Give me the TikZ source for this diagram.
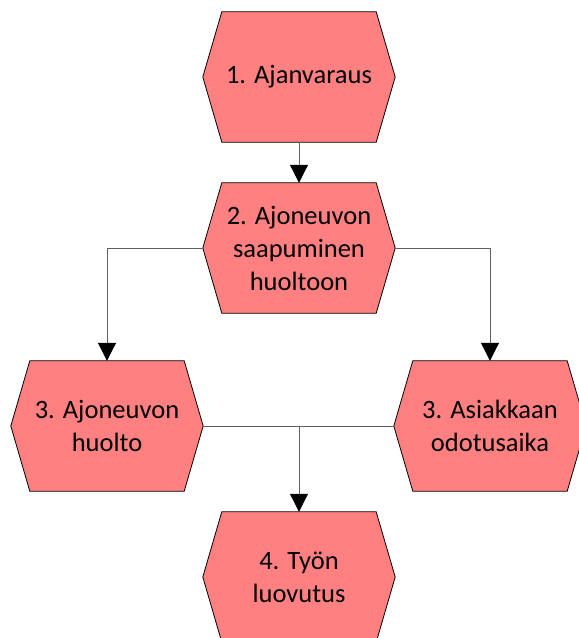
\documentclass[tikz,border=0pt]{standalone}
\usepackage{fontspec}
\setmainfont{Carlito}
\usetikzlibrary{arrows.meta,calc}
\pgfdeclarelayer{background}
\pgfsetlayers{background,main}
\definecolor{hexfill}{HTML}{FF8080}
\definecolor{linegrey}{HTML}{606060}
\begin{document}
\begin{tikzpicture}[x=1pt,y=-1pt,
  hexbox/.style={minimum width=192pt,minimum height=130pt,inner sep=0pt,align=center,
    font=\fontsize{26.5}{33}\selectfont,text=black},
  conn/.style={draw=linegrey,line width=1pt},
  arr/.style={conn,-{Triangle[width=18pt,length=18pt,fill=black,color=black]}}]
\useasboundingbox (0,0) rectangle (579,638);
\clip (0,0) rectangle (579,638);
\node[hexbox] (n1) at (299,77) {1. Ajanvaraus};
\node[hexbox] (n2) at (299,248) {2. Ajoneuvon\\saapuminen\\huoltoon};
\node[hexbox] (n3l) at (107,426) {3. Ajoneuvon\\huolto};
\node[hexbox] (n3r) at (490,426) {3. Asiakkaan\\odotusaika};
\node[hexbox] (n4) at (299,577) {4. Työn\\luovutus};
\begin{pgfonlayer}{background}
\foreach \n in {n1,n2,n3l,n3r,n4}{
  \filldraw[fill=hexfill,draw=black,line width=0.8pt]
    (\n.west) -- ([xshift=19pt]\n.north west) -- ([xshift=-19pt]\n.north east)
    -- (\n.east) -- ([xshift=-19pt]\n.south east) -- ([xshift=19pt]\n.south west) -- cycle;
}
\end{pgfonlayer}
\draw[arr] (n1.south) -- (n2.north);
\draw[arr] (n2.west) -| (n3l.north);
\draw[arr] (n2.east) -| (n3r.north);
\draw[conn] (n3l.east) -- (n3r.west);
\draw[arr] (n3l.east -| n4.north) -- (n4.north);
\end{tikzpicture}
\end{document}
